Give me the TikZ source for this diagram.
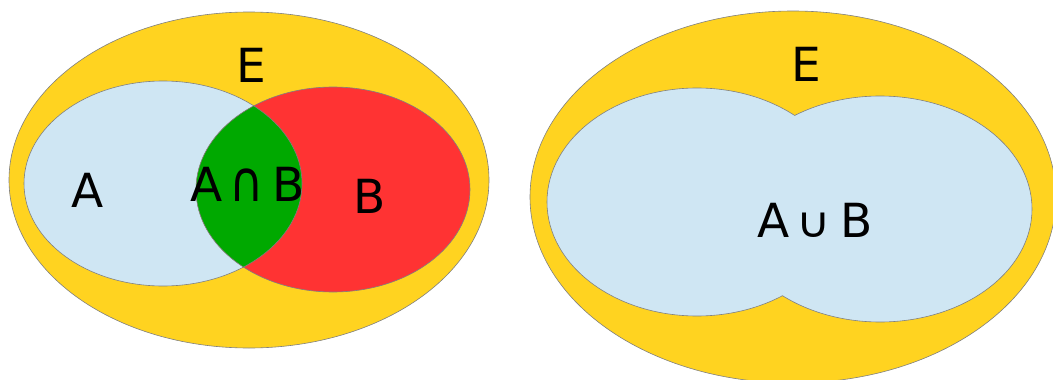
\documentclass[tikz,border=0pt]{standalone}
\usepackage{fontspec}
\setmainfont{DejaVu Sans}
\definecolor{eyellow}{HTML}{FFD320}
\definecolor{setblue}{HTML}{CFE6F3}
\definecolor{setred}{HTML}{FF3333}
\definecolor{setgreen}{HTML}{00A900}
\definecolor{rim}{HTML}{808080}
\newcommand{\opsym}[2]{\scalebox{1}[#1]{#2}}
\begin{document}
\begin{tikzpicture}[x=1pt,y=-1pt,
  rimline/.style={draw=rim,line width=0.6pt},
  lbl/.style={inner sep=0pt,anchor=base,font=\fontsize{47}{47}\selectfont}]
\useasboundingbox (0,0) rectangle (1053,380);
% ---------- left diagram ----------
\coordinate (EL) at (249,180);
\coordinate (Ac) at (163,183.5);
\coordinate (Bc) at (333,189.5);
\path[fill=eyellow,rimline] (EL) ellipse [x radius=240pt,y radius=168pt];
\path[fill=setblue] (Ac) ellipse [x radius=139pt,y radius=102.5pt];
\path[fill=setred] (Bc) ellipse [x radius=137pt,y radius=102.5pt];
\begin{scope}
  \clip (Ac) ellipse [x radius=139pt,y radius=102.5pt];
  \path[fill=setgreen] (Bc) ellipse [x radius=137pt,y radius=102.5pt];
\end{scope}
\path[rimline] (Ac) ellipse [x radius=139pt,y radius=102.5pt];
\path[rimline] (Bc) ellipse [x radius=137pt,y radius=102.5pt];
\node[lbl] (labE1) at (251,82) {E};
\node[lbl] (labA) at (88,207) {A};
\node[lbl] (labAB) at (247.5,201.7) {A\hspace{7pt}\opsym{1.2}{∩}\hspace{8pt}B};
\node[lbl] (labB) at (370,213) {B};
% ---------- right diagram ----------
\coordinate (ER) at (793,197);
\coordinate (Lc) at (697,202);
\coordinate (Rc) at (880,209);
\path[fill=eyellow,rimline] (ER) ellipse [x radius=263pt,y radius=186pt];
\path[fill=setblue] (Lc) ellipse [x radius=150pt,y radius=114pt];
\path[fill=setblue] (Rc) ellipse [x radius=152pt,y radius=113pt];
\begin{scope}[even odd rule]
  \clip (520,0) rectangle (1053,380) (Rc) ellipse [x radius=152pt,y radius=113pt];
  \path[rimline] (Lc) ellipse [x radius=150pt,y radius=114pt];
\end{scope}
\begin{scope}[even odd rule]
  \clip (520,0) rectangle (1053,380) (Lc) ellipse [x radius=150pt,y radius=114pt];
  \path[rimline] (Rc) ellipse [x radius=152pt,y radius=113pt];
\end{scope}
\node[lbl] (labE2) at (806.5,81) {E};
\node[lbl] (labAuB) at (815,237) {A\hspace{7pt}\opsym{0.9}{∪}\hspace{9pt}B};
\end{tikzpicture}
\end{document}
